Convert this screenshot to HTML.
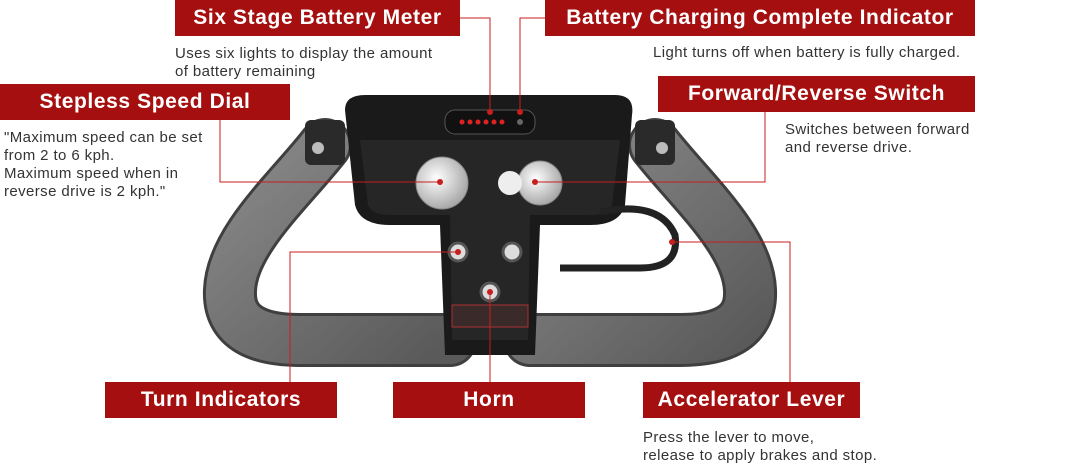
<!DOCTYPE html>
<html><head><meta charset="utf-8"><style>
html,body{margin:0;padding:0;background:#fff;}
body{width:1080px;height:464px;position:relative;overflow:hidden;font-family:"Liberation Sans","Noto Sans CJK JP",sans-serif;}
.lbl{position:absolute;background:#a50f0f;color:#fff;font-weight:bold;font-size:21px;letter-spacing:0.6px;height:36px;line-height:36px;text-align:center;white-space:nowrap;}
.d{position:absolute;color:#333;font-size:15px;letter-spacing:0.4px;line-height:18px;white-space:nowrap;}
svg{position:absolute;left:0;top:0;}
</style></head><body>
<svg width="1080" height="464" viewBox="0 0 1080 464">
<defs>
<linearGradient id="g1" x1="0" y1="0" x2="1" y2="1"><stop offset="0" stop-color="#8a8a8a"/><stop offset="1" stop-color="#5a5a5a"/></linearGradient>
<radialGradient id="dial" cx="0.4" cy="0.4" r="0.6"><stop offset="0" stop-color="#fff"/><stop offset="1" stop-color="#aaa"/></radialGradient>
</defs>
<path d="M325 145 C290 190 232 240 230 290 C228 330 262 340 300 340 L450 340" fill="none" stroke="#3f3f3f" stroke-width="54" stroke-linecap="round"/>
<path d="M325 145 C290 190 232 240 230 290 C228 330 262 340 300 340 L450 340" fill="none" stroke="url(#g1)" stroke-width="48" stroke-linecap="round"/>
<path d="M655 145 C690 190 748 240 750 290 C752 330 718 340 680 340 L530 340" fill="none" stroke="#3f3f3f" stroke-width="54" stroke-linecap="round"/>
<path d="M655 145 C690 190 748 240 750 290 C752 330 718 340 680 340 L530 340" fill="none" stroke="url(#g1)" stroke-width="48" stroke-linecap="round"/>
<rect x="305" y="120" width="40" height="45" rx="6" fill="#2a2a2a"/>
<circle cx="318" cy="148" r="6" fill="#bbb"/>
<rect x="635" y="120" width="40" height="45" rx="6" fill="#2a2a2a"/>
<circle cx="662" cy="148" r="6" fill="#bbb"/>
<path d="M345 110 Q345 95 365 95 L615 95 Q635 95 632 115 L625 205 Q620 225 590 225 L540 225 L535 355 L445 355 L440 225 L390 225 Q360 225 355 205 Z" fill="#1a1a1a"/>
<path d="M360 140 L620 140 L612 205 Q608 215 590 215 L530 215 L528 340 L452 340 L450 215 L390 215 Q372 215 368 205 Z" fill="#262626"/>
<rect x="445" y="110" width="90" height="24" rx="10" fill="#111" stroke="#555"/>
<g fill="#d22"><circle cx="462" cy="122" r="2.5"/><circle cx="470" cy="122" r="2.5"/><circle cx="478" cy="122" r="2.5"/><circle cx="486" cy="122" r="2.5"/><circle cx="494" cy="122" r="2.5"/><circle cx="502" cy="122" r="2.5"/></g>
<circle cx="520" cy="122" r="3" fill="#666"/>
<circle cx="442" cy="183" r="26" fill="url(#dial)" stroke="#888"/>
<circle cx="540" cy="183" r="22" fill="url(#dial)" stroke="#888"/>
<circle cx="510" cy="183" r="12" fill="#eee"/>
<circle cx="458" cy="252" r="9" fill="#ddd" stroke="#555" stroke-width="3"/>
<circle cx="512" cy="252" r="9" fill="#ddd" stroke="#555" stroke-width="3"/>
<circle cx="490" cy="292" r="9" fill="#ddd" stroke="#555" stroke-width="3"/>
<rect x="452" y="305" width="76" height="22" fill="#3a2a2a" stroke="#a33"/>
<path d="M600 212 Q660 200 675 235 Q680 268 640 268 L560 268" fill="none" stroke="#222" stroke-width="7"/>
<g fill="none" stroke="#c81e1e" stroke-width="1">
<path d="M460 18 H490 V112"/>
<path d="M545 18 H520 V112"/>
<path d="M220 120 V182 H440"/>
<path d="M765 112 V182 H535"/>
<path d="M290 382 V252 H458"/>
<path d="M490 382 V292"/>
<path d="M790 382 V242 H672"/>
</g>
<g fill="#c81e1e"><circle cx="490" cy="112" r="3"/><circle cx="520" cy="112" r="3"/><circle cx="440" cy="182" r="3"/><circle cx="535" cy="182" r="3"/><circle cx="458" cy="252" r="3"/><circle cx="490" cy="292" r="3"/><circle cx="672" cy="242" r="3"/></g>
</svg>
<div class="lbl" style="left:175px;top:0;width:285px">Six Stage Battery Meter</div>
<div class="lbl" style="left:545px;top:0;width:430px">Battery Charging Complete Indicator</div>
<div class="lbl" style="left:0;top:84px;width:290px">Stepless Speed Dial</div>
<div class="lbl" style="left:658px;top:76px;width:317px">Forward/Reverse Switch</div>
<div class="lbl" style="left:105px;top:382px;width:232px">Turn Indicators</div>
<div class="lbl" style="left:393px;top:382px;width:192px">Horn</div>
<div class="lbl" style="left:643px;top:382px;width:217px">Accelerator Lever</div>
<div class="d" style="left:175px;top:45px">Uses six lights to display the amount<br>of battery remaining</div>
<div class="d" style="left:653px;top:44px">Light turns off when battery is fully charged.</div>
<div class="d" style="left:4px;top:129px">"Maximum speed can be set<br>from 2 to 6 kph.<br>Maximum speed when in<br>reverse drive is 2 kph."</div>
<div class="d" style="left:785px;top:121px">Switches between forward<br>and reverse drive.</div>
<div class="d" style="left:643px;top:429px">Press the lever to move,<br>release to apply brakes and stop.</div>
</body></html>
